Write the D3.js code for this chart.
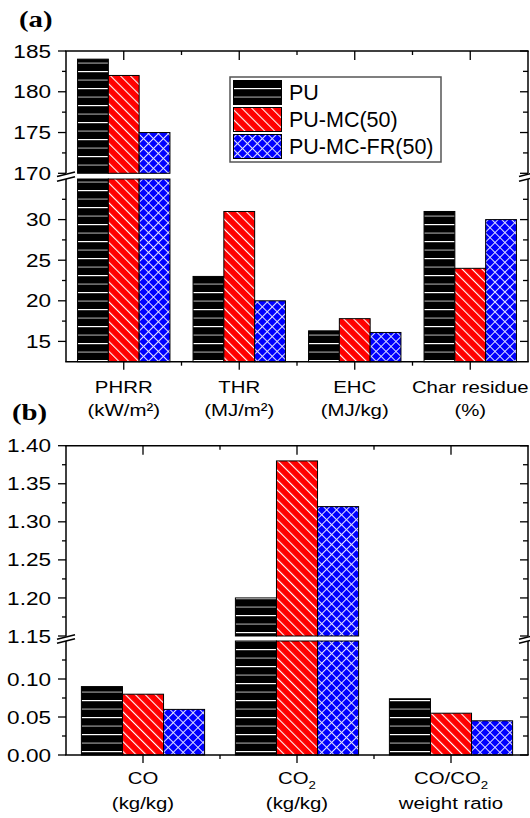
<!DOCTYPE html>
<head>
<meta charset="utf-8">
<style>
  body { margin: 0; background: #fff; }
  svg { font-family: "Liberation Sans", Arial, sans-serif; }
  .axis-line { stroke: #000; stroke-width: 1.5; fill: none; }
  .tick { stroke: #000; stroke-width: 1.3; }
  .bar { stroke: #000; stroke-width: 1; }
</style>
</head>
<body>
<svg width="530" height="818" viewBox="0 0 530 818"></svg>
<script src="https://cdnjs.cloudflare.com/ajax/libs/d3/7.8.5/d3.min.js"></script>
<script>
// ---- data ----
var seriesNames = ["PU", "PU-MC(50)", "PU-MC-FR(50)"];

var catsA = ["PHRR", "THR", "EHC", "Char residue"];
var unitsA = ["(kW/m²)", "(MJ/m²)", "(MJ/kg)", "(%)"];
var puA = [184, 23, 16.3, 31];
var mcA = [182, 31, 17.8, 24];
var frA = [175, 20, 16.1, 30];
var ticksAHi = [170, 175, 180, 185];
var ticksALo = [15, 20, 25, 30];

var catsB = ["CO", "CO2", "CO/CO2"];
var unitsB = ["(kg/kg)", "(kg/kg)", "weight ratio"];
var puB = [0.09, 1.20, 0.074];
var mcB = [0.08, 1.38, 0.055];
var frB = [0.06, 1.32, 0.045];
var ticksBHi = [1.15, 1.20, 1.25, 1.30, 1.35, 1.40];
var ticksBLo = [0.00, 0.05, 0.10];

var svg = d3.select("svg");
var SX = 1.2; // the figure is stretched horizontally

// ---- patterns ----
var defs = svg.append("defs");
var p0 = defs.append("pattern").attr("id", "pat0").attr("patternUnits", "userSpaceOnUse")
  .attr("width", 10).attr("height", 17);
p0.append("rect").attr("width", 10).attr("height", 17).attr("fill", "#000");
p0.append("rect").attr("y", 3).attr("width", 10).attr("height", 1.2).attr("fill", "#fff");
p0.append("rect").attr("y", 11.5).attr("width", 10).attr("height", 1.2).attr("fill", "#999");

var p1 = defs.append("pattern").attr("id", "pat1").attr("patternUnits", "userSpaceOnUse")
  .attr("width", 7).attr("height", 7).attr("patternTransform", "rotate(-45)");
p1.append("rect").attr("width", 7).attr("height", 7).attr("fill", "#ff0000");
p1.append("rect").attr("x", 3).attr("width", 1.1).attr("height", 7).attr("fill", "#fff");

var p2 = defs.append("pattern").attr("id", "pat2").attr("patternUnits", "userSpaceOnUse")
  .attr("width", 7).attr("height", 7).attr("patternTransform", "rotate(45)");
p2.append("rect").attr("width", 7).attr("height", 7).attr("fill", "#0000ff");
p2.append("rect").attr("x", 3).attr("width", 1).attr("height", 7).attr("fill", "#e0e0ff");
p2.append("rect").attr("y", 3).attr("width", 7).attr("height", 1).attr("fill", "#e0e0ff");

function stext(g, x, y, str, size, anchor, family, weight, sx) {
  return g.append("text")
    .attr("transform", "translate(" + x + "," + y + ") scale(" + (sx || SX) + ",1)")
    .attr("text-anchor", anchor || "middle")
    .attr("font-size", size)
    .attr("font-family", family || null)
    .attr("font-weight", weight || null)
    .text(str);
}

function subText(g, x, y, str, size) {
  // renders "CO2" with a subscript 2
  var t = g.append("text")
    .attr("transform", "translate(" + x + "," + y + ") scale(" + SX + ",1)")
    .attr("text-anchor", "middle").attr("font-size", size);
  var parts = str.split("2");
  parts.forEach(function (p, i) {
    if (p) t.append("tspan").text(p);
    if (i < parts.length - 1) {
      t.append("tspan").attr("dy", 5).attr("font-size", size * 0.65).text("2");
      t.append("tspan").attr("dy", -5).text("");
    }
  });
}

function drawPanel(cfg) {
  var g = svg.append("g");
  var x0 = 66, x1 = 528;
  var x = d3.scaleBand().domain(cfg.cats).range([x0, x1]);
  var xs = d3.scaleBand().domain(d3.range(3))
    .range([x.bandwidth() * 0.1, x.bandwidth() * 0.9]);
  var yLo = d3.scaleLinear().domain(cfg.loDomain).range(cfg.loRange);
  var yHi = d3.scaleLinear().domain(cfg.hiDomain).range(cfg.hiRange);
  var gapTop = cfg.hiRange[0], gapBot = cfg.loRange[1];
  var yTop = cfg.hiRange[1], yBot = cfg.loRange[0];

  // bars
  cfg.series.forEach(function (vals, si) {
    vals.forEach(function (v, ci) {
      var bx = x(cfg.cats[ci]) + xs(si);
      var loTop = yLo(Math.min(v, cfg.loDomain[1]));
      g.append("rect").attr("class", "bar")
        .attr("x", bx).attr("width", xs.bandwidth())
        .attr("y", loTop).attr("height", yBot - loTop)
        .attr("fill", "url(#pat" + si + ")");
      if (v > cfg.hiDomain[0]) {
        g.append("rect").attr("class", "bar")
          .attr("x", bx).attr("width", xs.bandwidth())
          .attr("y", yHi(v)).attr("height", gapTop - yHi(v))
          .attr("fill", "url(#pat" + si + ")");
      }
    });
  });

  // frame
  g.append("line").attr("class", "axis-line").attr("x1", x0 - 0.75).attr("x2", x1 + 0.75).attr("y1", yTop).attr("y2", yTop);
  g.append("line").attr("class", "axis-line").attr("x1", x0 - 0.75).attr("x2", x1 + 0.75).attr("y1", yBot).attr("y2", yBot);
  [x0, x1].forEach(function (xx) {
    g.append("line").attr("class", "axis-line").attr("x1", xx).attr("x2", xx).attr("y1", yTop).attr("y2", gapTop);
    g.append("line").attr("class", "axis-line").attr("x1", xx).attr("x2", xx).attr("y1", gapBot).attr("y2", yBot);
    // break marks
    [gapTop + 1, gapBot].forEach(function (yy) {
      g.append("line").attr("class", "axis-line")
        .attr("x1", xx - 9).attr("y1", yy + 2.3).attr("x2", xx + 9).attr("y2", yy - 2.3);
    });
  });

  // x ticks
  var half = x.bandwidth() / 2;
  cfg.cats.forEach(function (c, i) {
    var cx = x(c) + half;
    g.append("line").attr("class", "tick").attr("x1", cx).attr("x2", cx).attr("y1", yBot).attr("y2", yBot + 8);
    g.append("line").attr("class", "tick").attr("x1", cx).attr("x2", cx).attr("y1", yTop).attr("y2", yTop + 9);
    if (i > 0) {
      var bx = x(c);
      g.append("line").attr("class", "tick").attr("x1", bx).attr("x2", bx).attr("y1", yBot).attr("y2", yBot + 4);
      g.append("line").attr("class", "tick").attr("x1", bx).attr("x2", bx).attr("y1", yTop).attr("y2", yTop + 4);
    }
    if (cfg.cats[i].indexOf("2") >= 0) subText(g, cx, cfg.lab1, cfg.cats[i], 17);
    else stext(g, cx, cfg.lab1, cfg.cats[i], 17);
    stext(g, cx, cfg.lab2, cfg.units[i], 17);
  });

  // y ticks
  function yTicks(scale, ticks, step, fmt) {
    ticks.forEach(function (t) {
      var yy = scale(t);
      g.append("line").attr("class", "tick").attr("x1", x0 - 8).attr("x2", x0).attr("y1", yy).attr("y2", yy);
      g.append("line").attr("class", "tick").attr("x1", x1 - 8).attr("x2", x1).attr("y1", yy).attr("y2", yy);
      stext(g, 51, yy + 6.6, fmt(t), 18.5, "end", null, null, 1.22);
    });
    var d = scale.domain();
    for (var m = ticks[0] - step / 2; m < d[1]; m += step) {
      if (m <= d[0] + 1e-9) continue;
      var ym = scale(m);
      g.append("line").attr("class", "tick").attr("x1", x0 - 4).attr("x2", x0).attr("y1", ym).attr("y2", ym);
      g.append("line").attr("class", "tick").attr("x1", x1 - 5).attr("x2", x1).attr("y1", ym).attr("y2", ym);
    }
  }
  yTicks(yHi, cfg.hiTicks, cfg.step, cfg.fmt);
  yTicks(yLo, cfg.loTicks, cfg.step, cfg.fmt);

  stext(g, cfg.tagX, cfg.tagY, cfg.tag, 24, "start", "'Liberation Serif', 'Times New Roman', serif", "bold");
  return g;
}

drawPanel({
  cats: catsA, units: unitsA, series: [puA, mcA, frA],
  loDomain: [12.5, 35], loRange: [361.7, 179],
  hiDomain: [170, 185], hiRange: [173.3, 51],
  hiTicks: ticksAHi, loTicks: ticksALo, step: 5, fmt: d3.format("d"),
  lab1: 393, lab2: 416, tag: "(a)", tagX: 19, tagY: 27
});

drawPanel({
  cats: catsB, units: unitsB, series: [puB, mcB, frB],
  loDomain: [0, 0.15], loRange: [755, 641],
  hiDomain: [1.15, 1.40], hiRange: [636, 445.7],
  hiTicks: ticksBHi, loTicks: ticksBLo, step: 0.05, fmt: d3.format(".2f"),
  lab1: 784, lab2: 809, tag: "(b)", tagX: 12, tagY: 420
});

// ---- legend ----
var lg = svg.append("g");
lg.append("rect").attr("x", 230).attr("y", 77).attr("width", 211).attr("height", 85)
  .attr("fill", "#fff").attr("stroke", "#555").attr("stroke-width", 1.5);
var rowY = d3.scaleBand().domain(d3.range(3)).range([79, 160]);
seriesNames.forEach(function (s, i) {
  lg.append("rect").attr("class", "bar").attr("stroke-width", 1.5)
    .attr("x", 233.5).attr("y", rowY(i) + 1.5).attr("width", 48).attr("height", rowY.bandwidth() - 3)
    .attr("fill", "url(#pat" + i + ")");
  lg.append("text").attr("x", 289).attr("y", rowY(i) + rowY.bandwidth() / 2 + 7.5)
    .attr("font-size", 21.5).text(s);
});
</script>
</body>
